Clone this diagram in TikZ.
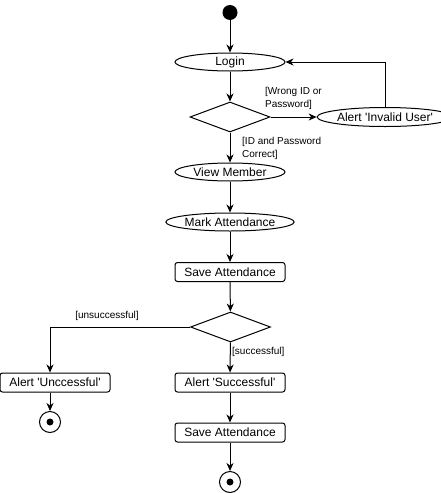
\documentclass[tikz,border=0pt]{standalone}
\usepackage{fontspec}
\setmainfont{Liberation Sans}[Ligatures=TeXOff]
\usetikzlibrary{shapes.geometric,arrows.meta}
\tikzset{
  every picture/.style={x=1pt,y=-1pt},
  base/.style={draw, line width=1pt, inner sep=0pt, font=\fontsize{12}{14}\selectfont},
  act/.style={base, ellipse, minimum width=110pt, minimum height=18pt},
  box/.style={base, rectangle, rounded corners=2.5pt, minimum width=110pt, minimum height=19pt},
  dec/.style={draw, line width=1pt, diamond, aspect=2.67, minimum width=80pt, minimum height=30pt, inner sep=0pt},
  endnode/.style={draw, line width=1pt, circle, minimum size=21pt, inner sep=0pt},
  arr/.style={line width=1pt, -{Stealth[length=8pt,width=7pt,inset=2.5pt]}},
  lbl/.style={font=\fontsize{10}{13}\selectfont, inner sep=0pt, align=left}
}
\begin{document}
\begin{tikzpicture}
\useasboundingbox (0,0) rectangle (441,493);
\node[fill=black, circle, minimum size=15pt, inner sep=0pt] (start) at (230,12.5) {};
\node[act] (login) at (230,62) {Login};
\node[dec] (d1) at (230,117) {};
\node[act, minimum width=110pt, minimum height=19pt] (alert) at (385,117) {Alert 'Invalid User'};
\node[act] (view) at (230,172) {View Member};
\node[act] (mark) at (230,222) {Mark Attendance};
\node[box] (save1) at (230,272) {Save Attendance};
\node[dec] (d2) at (230.5,327) {};
\node[box] (unsucc) at (55,382.5) {Alert 'Unccessful'};
\node[box] (succ) at (230,382.5) {Alert 'Successful'};
\node[endnode] (end1) at (50,422) {};
\fill (end1.center) circle (3.5pt);
\node[box] (save2) at (230,432.5) {Save Attendance};
\node[endnode] (end2) at (230,482) {};
\fill (end2.center) circle (3.5pt);

\node[lbl, anchor=north west] (l1) at (265,87) {[Wrong ID or\\Password]};
\node[lbl, anchor=north west] (l2) at (242,137) {[ID and Password\\Correct]};
\node[lbl] (l3) at (107,316) {[unsuccessful]};
\node[lbl, anchor=west] (l4) at (232,352) {[successful]};

\draw[arr] (start) -- (login);
\draw[arr] (login) -- (d1);
\draw[arr] (d1.east) -- (alert.west);
\draw[arr] (alert.north) |- (login.east);
\draw[arr] (d1) -- (view);
\draw[arr] (view) -- (mark);
\draw[arr] (mark) -- (save1);
\draw[arr] (save1) -- (d2);
\draw[arr] (d2.west) -| (end1.center |- unsucc.north);
\draw[arr] (d2) -- (succ);
\draw[arr] (unsucc.south -| end1.center) -- (end1);
\draw[arr] (succ) -- (save2);
\draw[arr] (save2) -- (end2);
\end{tikzpicture}
\end{document}
